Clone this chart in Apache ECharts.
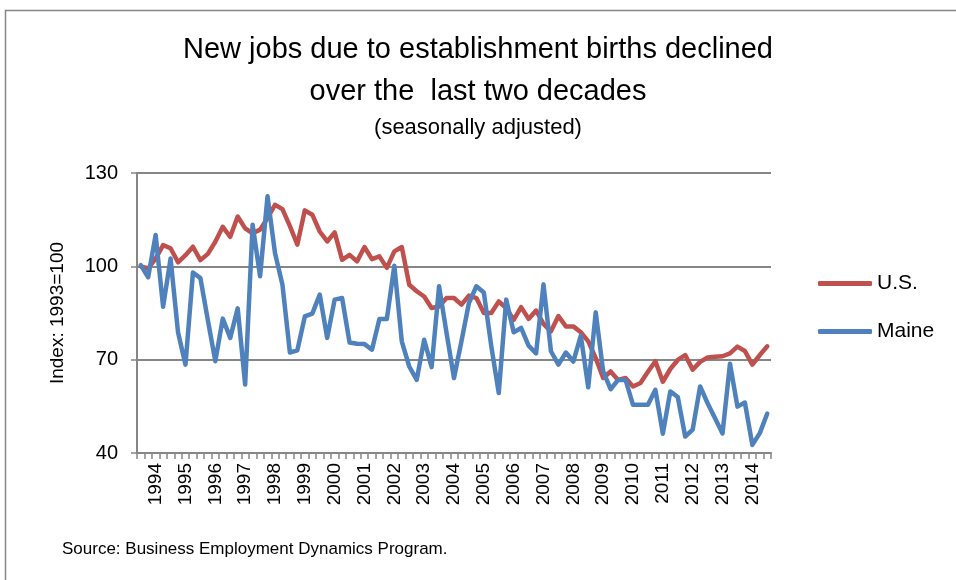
<!DOCTYPE html>
<html>
<head>
<meta charset="utf-8">
<script src="https://cdn.jsdelivr.net/npm/echarts@6/dist/echarts.min.js"></script>
<style>
  html, body { margin: 0; padding: 0; background: #fff; }
  #chart { width: 956px; height: 580px; }
</style>
</head>
<body>
<div id="chart"></div>
<script>
// quarterly, 1993 Q3 .. 2014 Q3
const firstYear = 1993;
const firstQuarter = 3;
const yearLabels = ["1994", "1995", "1996", "1997", "1998", "1999", "2000", "2001", "2002", "2003",
  "2004", "2005", "2006", "2007", "2008", "2009", "2010", "2011", "2012", "2013", "2014"];

const usValues = [
  100, 99.3, 102.5, 106.8, 105.8, 101.3, 103.6, 106.3, 102, 104,
  107.9, 112.7, 109.5, 116, 112.2, 110.6, 111.8, 115.5, 119.8, 118.4,
  112.9, 107, 118, 116.6, 111.2, 108, 110.9, 102.1, 103.7, 101.6,
  106.2, 102.3, 103.2, 99.5, 104.8, 106.2, 94.1, 92, 90.3, 86.6,
  87.1, 89.8, 89.8, 87.7, 90.6, 89.8, 85, 85, 88.7, 86.6,
  82.8, 86.9, 83.1, 85.8, 81.5, 79.1, 84, 80.7, 80.7, 78.8,
  75.9, 70.5, 64.1, 66.2, 63.5, 64.1, 61.4, 62.5, 66.1, 69.5,
  62.9, 67, 69.9, 71.5, 66.8, 69.3, 70.7, 70.9, 71.1, 72,
  74.2, 72.8, 68.4, 71.5, 74.3
];

const maineValues = [
  100.4, 96.5, 110.1, 87, 102.5, 78.8, 68.4, 98, 96.2, 82.7,
  69.5, 83.2, 77, 86.5, 62, 113.4, 96.8, 122.5, 104.3, 94.1,
  72.3, 73, 83.9, 84.8, 90.9, 77, 89.3, 89.8, 75.5, 75.1,
  75, 73.2, 83.1, 83.1, 100.2, 75.9, 67.8, 63.5, 76.4, 67.6,
  93.6, 78.6, 64.1, 75.9, 88.2, 93.6, 91.6, 74.3, 59.3, 89.3,
  78.8, 80.2, 74.5, 72, 94.2, 72.7, 68.4, 72.3, 69.4, 77.7,
  61.1, 85.2, 66.2, 60.5, 63.5, 63.5, 55.5, 55.5, 55.5, 60.3,
  46.2, 59.8, 58, 45.3, 47.5, 61.4, 56, 51.2, 46.3, 68.7,
  54.9, 56.2, 42.6, 46.4, 52.7
];

// category names: year shown on Q1 only
const categories = [];
let year = firstYear, q = firstQuarter;
for (let i = 0; i < usValues.length; i++) {
  categories.push(q === 1 && yearLabels.indexOf(String(year)) >= 0 ? String(year) : year + "Q" + q);
  q++;
  if (q > 4) { q = 1; year++; }
}

const chart = echarts.init(document.getElementById("chart"));
const option = {
  backgroundColor: "#fff",
  animation: false,
  textStyle: { fontFamily: "Liberation Sans" },
  title: [
    {
      text: "New jobs due to establishment births declined",
      left: "center", top: 35, padding: 0,
      textStyle: { fontSize: 29, fontWeight: "normal", color: "#000" }
    },
    {
      text: "over the  last two decades",
      left: "center", top: 77, padding: 0,
      textStyle: { fontSize: 29, fontWeight: "normal", color: "#000" }
    },
    {
      text: "(seasonally adjusted)",
      left: "center", top: 117, padding: 0,
      textStyle: { fontSize: 22, fontWeight: "normal", color: "#000" }
    },
    {
      text: "Source: Business Employment Dynamics Program.",
      left: 62, top: 541, padding: 0,
      textStyle: { fontSize: 17, fontWeight: "normal", color: "#000" }
    }
  ],
  legend: {
    orient: "vertical",
    left: 818, top: 273,
    padding: 0,
    itemWidth: 54, itemHeight: 5,
    itemGap: 27,
    icon: "roundRect",
    textStyle: { fontSize: 21, color: "#000", padding: [0, 0, 0, 0] },
    data: ["U.S.", "Maine"]
  },
  grid: { left: 137, right: 185, top: 173, bottom: 127, containLabel: false },
  xAxis: {
    type: "category",
    data: categories,
    boundaryGap: true,
    axisLine: { lineStyle: { color: "#868686", width: 2 } },
    axisTick: { show: true, interval: 0, length: 6, lineStyle: { color: "#868686", width: 1.5 } },
    axisLabel: {
      interval: (idx, val) => yearLabels.indexOf(val) >= 0,
      formatter: (val) => (yearLabels.indexOf(val) >= 0 ? val : ""),
      rotate: 90,
      fontSize: 19,
      color: "#000",
      margin: 10
    },
    splitLine: { show: false }
  },
  yAxis: {
    type: "value",
    min: 40, max: 130, interval: 30,
    name: "Index: 1993=100",
    nameLocation: "middle",
    nameGap: 70,
    nameRotate: 90,
    nameTextStyle: { fontSize: 19, color: "#000" },
    axisLine: { show: true, lineStyle: { color: "#868686", width: 2 } },
    axisTick: { show: true, length: 6, lineStyle: { color: "#868686", width: 1.5 } },
    axisLabel: { fontSize: 20, color: "#000", margin: 19 },
    splitLine: { show: true, lineStyle: { color: "#868686", width: 2 } }
  },
  series: [
    {
      name: "U.S.",
      type: "line",
      data: usValues,
      symbol: "none",
      lineStyle: { color: "#C0504D", width: 4.5, cap: "round", join: "round" },
      itemStyle: { color: "#C0504D" }
    },
    {
      name: "Maine",
      type: "line",
      data: maineValues,
      symbol: "none",
      lineStyle: { color: "#4F81BD", width: 4.5, cap: "round", join: "round" },
      itemStyle: { color: "#4F81BD" }
    }
  ],
  graphic: [
    {
      type: "rect",
      shape: { x: 5.5, y: 10.5, width: 1000, height: 1000 },
      style: { fill: "none", stroke: "#868686", lineWidth: 1.5 },
      silent: true
    }
  ]
};
chart.setOption(option);
</script>
</body>
</html>
